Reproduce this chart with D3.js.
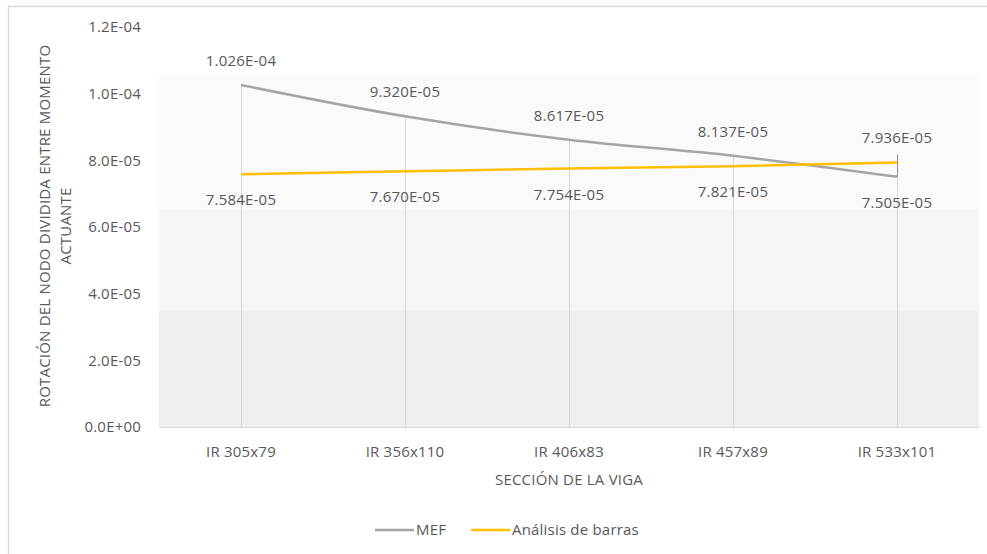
<!DOCTYPE html>
<html>
<head>
<meta charset="utf-8">
<script src="https://cdn.jsdelivr.net/npm/d3@7"></script>
<style>
    body { margin: 0; background: #ffffff; }
    text { font-family: "Open Sans", sans-serif; fill: #595959; letter-spacing: 0.2px; }
</style>
</head>
<body>
<div class="chart"></div>
<script>
var categories = ["IR 305x79", "IR 356x110", "IR 406x83", "IR 457x89", "IR 533x101"];
var mefValues = [1.026e-4, 9.320e-5, 8.617e-5, 8.137e-5, 7.505e-5];
var barrasValues = [7.584e-5, 7.670e-5, 7.754e-5, 7.821e-5, 7.936e-5];
var yTicks = [0, 2e-5, 4e-5, 6e-5, 8e-5, 1e-4, 1.2e-4];
var seriesNames = ["MEF", "Análisis de barras"];
// background bands of the plot area, in data units
var bandEdges = [0, 3.48e-5, 6.51e-5, 1.059e-4];
var bandColors = ["#efefef", "#f5f5f5", "#fafafa"];

var svgWidth = 987;
var svgHeight = 554;
var margin = { top: 27, right: 8, bottom: 127, left: 159 };
var width = svgWidth - margin.left - margin.right;
var height = svgHeight - margin.top - margin.bottom;
var fontSize = "15px";

var svg = d3.select(".chart")
    .append("svg")
    .attr("width", svgWidth)
    .attr("height", svgHeight);

// chart border
svg.append("path")
    .attr("d", "M8.5," + svgHeight + "V6.5H" + svgWidth)
    .attr("fill", "none")
    .attr("stroke", "#d9d9d9")
    .attr("stroke-width", 1.5);

var chart = svg.append("g")
    .attr("transform", "translate(" + margin.left + "," + margin.top + ")");

var xScale = d3.scaleBand()
    .domain(categories)
    .range([0, width]);

var yScale = d3.scaleLinear()
    .domain([0, 1.2e-4])
    .range([height, 0]);

var cx = function(i) { return xScale(categories[i]) + xScale.bandwidth() / 2; };

// bands
chart.selectAll(".band")
    .data(bandColors)
    .enter()
    .append("rect")
    .attr("class", "band")
    .attr("x", 0)
    .attr("width", width)
    .attr("y", function(d, i) { return yScale(bandEdges[i + 1]); })
    .attr("height", function(d, i) { return yScale(bandEdges[i]) - yScale(bandEdges[i + 1]); })
    .attr("fill", function(d) { return d; });

// x axis line
chart.append("line")
    .attr("x1", 0).attr("x2", width)
    .attr("y1", height + 0.5).attr("y2", height + 0.5)
    .attr("stroke", "#d9d9d9");

// drop lines
chart.selectAll(".drop")
    .data(categories)
    .enter()
    .append("line")
    .attr("class", "drop")
    .attr("x1", function(d, i) { return cx(i) + 0.5; })
    .attr("x2", function(d, i) { return cx(i) + 0.5; })
    .attr("y1", height)
    .attr("y2", function(d, i) { return yScale(Math.max(mefValues[i], barrasValues[i])); })
    .attr("stroke", "#d6d6d6");

chart.selectAll(".hilo")
    .data(categories.filter(function(d, i) { return barrasValues[i] > mefValues[i]; }))
    .enter()
    .append("line")
    .attr("x1", function(d) { return cx(categories.indexOf(d)) + 0.5; })
    .attr("x2", function(d) { return cx(categories.indexOf(d)) + 0.5; })
    .attr("y1", function(d) { return yScale(barrasValues[categories.indexOf(d)]) - 8; })
    .attr("y2", function(d) { return yScale(mefValues[categories.indexOf(d)]); })
    .attr("stroke", "#8c8c8c");

// y axis labels
var leftAxis = d3.axisLeft(yScale)
    .tickValues(yTicks)
    .tickSize(0)
    .tickPadding(18)
    .tickFormat(function(d) { return d === 0 ? "0.0E+00" : d3.format(".1e")(d).replace("e-", "E-0"); });

var yAxisG = chart.append("g").call(leftAxis);
yAxisG.select(".domain").remove();
yAxisG.selectAll("text")
    .style("font-size", fontSize)
    .style("font-family", "'Open Sans', sans-serif")
    .attr("fill", "#595959");

// x axis labels
chart.selectAll(".xlabel")
    .data(categories)
    .enter()
    .append("text")
    .attr("x", function(d, i) { return cx(i); })
    .attr("y", height + 30)
    .attr("text-anchor", "middle")
    .style("font-size", fontSize)
    .text(function(d) { return d; });

// lines
var line = d3.line()
    .x(function(d, i) { return cx(i); })
    .y(function(d) { return yScale(d); })
    .curve(d3.curveMonotoneX);

chart.append("path")
    .datum(mefValues)
    .attr("d", line)
    .attr("fill", "none")
    .attr("stroke", "#a5a5a5")
    .attr("stroke-width", 2.5);

chart.append("path")
    .datum(barrasValues)
    .attr("d", line)
    .attr("fill", "none")
    .attr("stroke", "#ffc000")
    .attr("stroke-width", 2.5);

// data labels: higher value above, lower below
function fmt(v) {
    return d3.format(".3e")(v).replace("e-", "E-0");
}

[mefValues, barrasValues].forEach(function(values, s) {
    var other = s === 0 ? barrasValues : mefValues;
    chart.selectAll(".lbl" + s)
        .data(values)
        .enter()
        .append("text")
        .attr("x", function(d, i) { return cx(i); })
        .attr("y", function(d, i) { return yScale(d) + (d >= other[i] ? -19 : 31); })
        .attr("text-anchor", "middle")
        .style("font-size", fontSize)
        .text(function(d) { return fmt(d); });
});

// axis titles
svg.append("text")
    .attr("x", 569)
    .attr("y", 485)
    .attr("text-anchor", "middle")
    .style("font-size", fontSize)
    .text("SECCIÓN DE LA VIGA");

svg.append("text")
    .attr("transform", "translate(50,226) rotate(-90)")
    .attr("text-anchor", "middle")
    .style("font-size", fontSize)
    .text("ROTACIÓN DEL NODO DIVIDIDA ENTRE MOMENTO");

svg.append("text")
    .attr("transform", "translate(71,226) rotate(-90)")
    .attr("text-anchor", "middle")
    .style("font-size", fontSize)
    .text("ACTUANTE");

// legend
var legendX = [375, 471];
var legendColors = ["#a5a5a5", "#ffc000"];
var legend = svg.selectAll(".legend")
    .data(seriesNames)
    .enter()
    .append("g")
    .attr("transform", function(d, i) { return "translate(" + legendX[i] + ",530)"; });

legend.append("line")
    .attr("x1", 0).attr("x2", 39)
    .attr("stroke", function(d, i) { return legendColors[i]; })
    .attr("stroke-width", 2.5);

legend.append("text")
    .attr("x", 41)
    .attr("y", 5)
    .style("font-size", fontSize)
    .text(function(d) { return d; });
</script>
</body>
</html>
